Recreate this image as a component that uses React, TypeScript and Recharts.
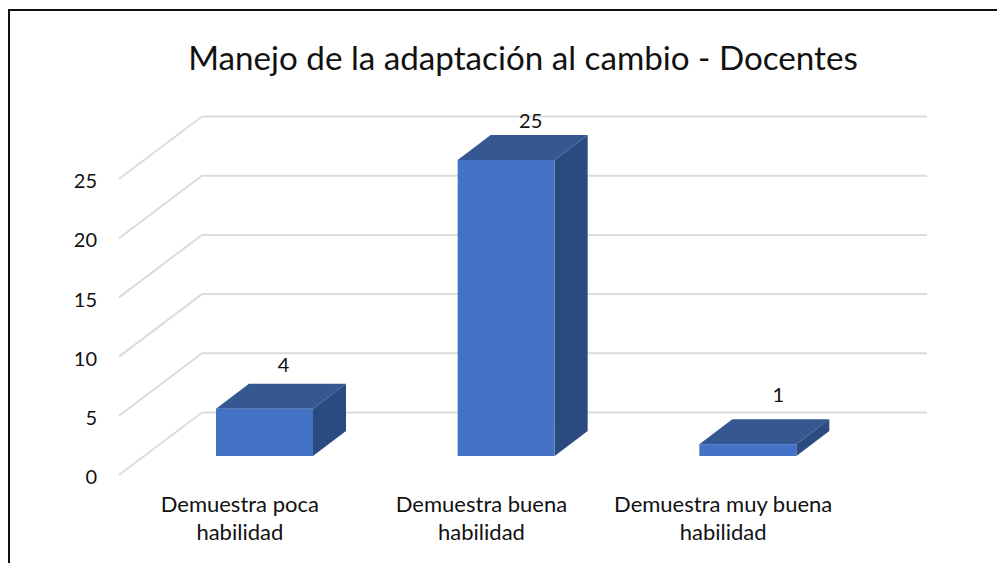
import { BarChart, Bar, XAxis, YAxis, CartesianGrid, LabelList } from 'recharts';

const categories = ['Demuestra poca habilidad', 'Demuestra buena habilidad', 'Demuestra muy buena habilidad'];
const values = [4, 25, 1];
const yTicks = [0, 5, 10, 15, 20, 25];

const data = categories.map((name, i) => ({ name, value: values[i] }));

const FONT = 'Lato, "Open Sans", sans-serif';
// fake 3D: depth of the walls and of the bars, in px
const WALL_DX = 83;
const WALL_DY = -62.5;
const BAR_SHIFT_X = 25;
const BAR_SHIFT_Y = -19;
const BAR_DX = 33;
const BAR_DY = -25;
// data labels were moved by hand in the original
const labelNudge = [
  { dx: 19, dy: -45 },
  { dx: 24.5, dy: -40 },
  { dx: 30.5, dy: -50 },
];

function WallLine(props: any) {
  const { x1, y1, x2, y2 } = props;
  const d = `M${x1},${y1}L${x1 + WALL_DX},${y1 + WALL_DY}L${x2 + WALL_DX},${y2 + WALL_DY}`;
  return <path key={props.key} d={d} fill="none" stroke="#dcdcdc" strokeWidth={2} />;
}

function Box3D(props: any) {
  const { x, y, width, height } = props;
  const left = x + BAR_SHIFT_X;
  const right = left + width;
  const top = y + BAR_SHIFT_Y;
  const bottom = top + height;
  return (
    <g>
      <path d={`M${left},${top}L${left + BAR_DX},${top + BAR_DY}L${right + BAR_DX},${top + BAR_DY}L${right},${top}Z`} fill="#355892" />
      <path d={`M${right},${top}L${right + BAR_DX},${top + BAR_DY}L${right + BAR_DX},${bottom + BAR_DY}L${right},${bottom}Z`} fill="#2b4a80" />
      <rect x={left} y={top} width={width} height={height} fill="#4472c4" />
    </g>
  );
}

function CategoryTick({ x, y, payload }: any) {
  const text: string = payload.value;
  const cut = text.lastIndexOf(' ');
  return (
    <text x={x} y={y} textAnchor="middle" fontFamily={FONT} fontSize={22} fill="#111">
      <tspan x={x} dy="0">{text.slice(0, cut)}</tspan>
      <tspan x={x} dy={28}>{text.slice(cut + 1)}</tspan>
    </text>
  );
}

function BoxLabel({ x, y, width, value, index }: any) {
  const n = labelNudge[index];
  return (
    <text x={x + BAR_SHIFT_X + width / 2 + n.dx} y={y + BAR_SHIFT_Y + n.dy} textAnchor="middle" dominantBaseline="central" fontFamily={FONT} fontSize={20} fill="#111">
      {value}
    </text>
  );
}

export default function App() {
  return (
    <div style={{ position: 'absolute', left: 0, top: 0, width: 997, height: 563, background: '#fff', overflow: 'hidden' }}>
      <div style={{ position: 'absolute', left: 8, top: 9, right: 0, bottom: 0, borderTop: '2px solid #111', borderLeft: '2px solid #111' }} />
      <div style={{ position: 'absolute', left: 0, top: 37, width: 1046, textAlign: 'center', fontFamily: FONT, fontSize: 33.2, lineHeight: '40px', color: '#111' }}>
        Manejo de la adaptación al cambio - Docentes
      </div>
      <div style={{ position: 'absolute', left: 0, top: 0 }}>
        <BarChart width={997} height={563} data={data} barSize={97} margin={{ top: 179, left: 59, right: 153, bottom: 28 }}>
          <CartesianGrid vertical={false} horizontal={WallLine} />
          <XAxis dataKey="name" height={60} axisLine={false} tickLine={false} tickSize={0} tickMargin={37} interval={0} tick={CategoryTick} />
          <YAxis width={60} domain={[0, 25]} ticks={yTicks} axisLine={false} tickLine={false} tickSize={0} tickMargin={22} tick={{ fontFamily: FONT, fontSize: 20, fill: '#111', dy: 2 }} />
          <Bar dataKey="value" shape={Box3D} isAnimationActive={false}>
            <LabelList dataKey="value" content={BoxLabel} />
          </Bar>
        </BarChart>
      </div>
    </div>
  );
}
